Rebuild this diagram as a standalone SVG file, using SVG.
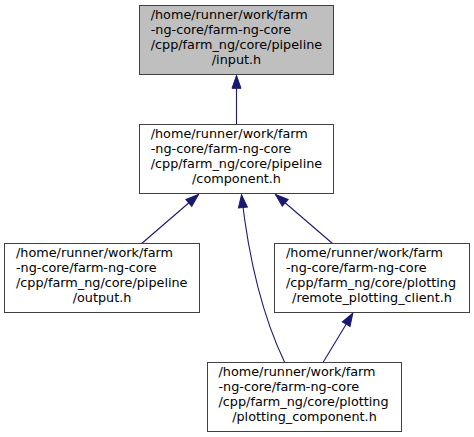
<svg xmlns="http://www.w3.org/2000/svg" width="474" height="437" viewBox="0 0 474 437">
<defs>
<style>
.node rect{fill:#ffffff;stroke:#404040;stroke-width:1}
.node.hl rect{fill:#bfbfbf}
.node text{font-family:"DejaVu Sans",sans-serif;font-size:12.8px;fill:#000000}
.node text.c{text-anchor:middle}
.edge{fill:none;stroke:#191970;stroke-width:1.1;marker-end:url(#ah)}
</style>
<marker id="ah" markerUnits="userSpaceOnUse" markerWidth="16" markerHeight="12" viewBox="-13.5 -6 15 12" refX="0" refY="0" orient="auto">
<path d="M0,0 L-12.8,-4.5 L-12.8,4.5 Z" fill="#191970" stroke="#191970" stroke-width="1"/>
</marker>
</defs>
<g id="connectors">
<path class="edge" d="M236.5,124.5 L236.5,75.5"/>
<path class="edge" d="M141.7,243.5 L198.5,194.5"/>
<path class="edge" d="M284.5,362 C262,315 249,262 241.5,194.8"/>
<path class="edge" d="M332.5,243.5 L275.5,194.5"/>
<path class="edge" d="M323.3,362 L352.8,313.2"/>
</g>
<g id="node-input" class="node hl">
<rect x="139.5" y="5.5" width="194" height="69"/>
<text x="150.7" y="19.3">/home/runner/work/farm</text>
<text x="150.7" y="34.3">-ng-core/farm-ng-core</text>
<text x="150.7" y="49.3">/cpp/farm_ng/core/pipeline</text>
<text class="c" x="236.5" y="64.3">/input.h</text>
</g>
<g id="node-component" class="node">
<rect x="139.5" y="124.5" width="194" height="69"/>
<text x="150.7" y="138.3">/home/runner/work/farm</text>
<text x="150.7" y="153.3">-ng-core/farm-ng-core</text>
<text x="150.7" y="168.3">/cpp/farm_ng/core/pipeline</text>
<text class="c" x="236.5" y="183.3">/component.h</text>
</g>
<g id="node-output" class="node">
<rect x="4.5" y="243.5" width="195" height="69"/>
<text x="16" y="257.3">/home/runner/work/farm</text>
<text x="16" y="272.3">-ng-core/farm-ng-core</text>
<text x="16" y="287.3">/cpp/farm_ng/core/pipeline</text>
<text class="c" x="102" y="302.3">/output.h</text>
</g>
<g id="node-remote-plotting-client" class="node">
<rect x="274.5" y="243.5" width="195" height="69"/>
<text x="286" y="257.3">/home/runner/work/farm</text>
<text x="286" y="272.3">-ng-core/farm-ng-core</text>
<text x="286" y="287.3">/cpp/farm_ng/core/plotting</text>
<text class="c" x="372" y="302.3">/remote_plotting_client.h</text>
</g>
<g id="node-plotting-component" class="node">
<rect x="207.5" y="362.5" width="194" height="69"/>
<text x="218.5" y="376.3">/home/runner/work/farm</text>
<text x="218.5" y="391.3">-ng-core/farm-ng-core</text>
<text x="218.5" y="406.3">/cpp/farm_ng/core/plotting</text>
<text class="c" x="304.5" y="421.3">/plotting_component.h</text>
</g>
</svg>
